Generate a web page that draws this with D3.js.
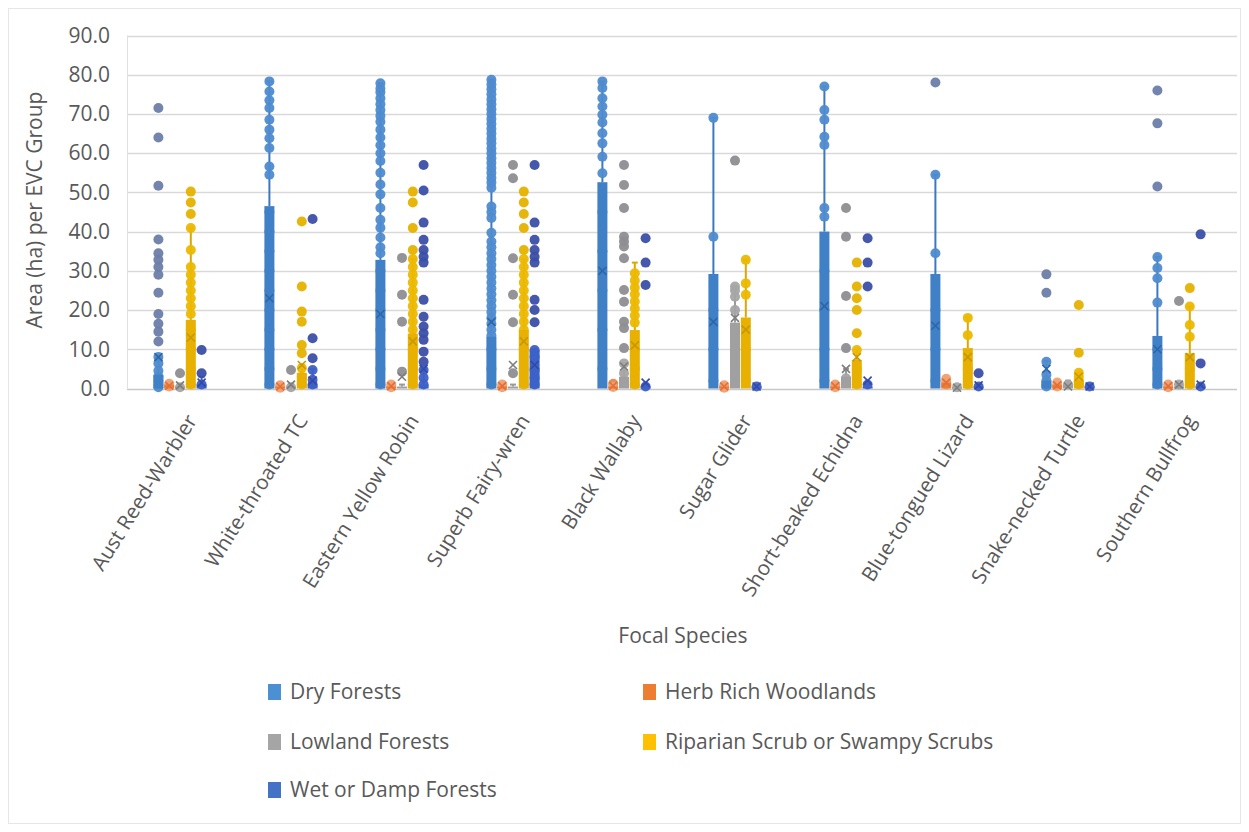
<!DOCTYPE html>
<html>
<head>
<meta charset="utf-8">
<script src="https://cdn.jsdelivr.net/npm/d3@7"></script>
<style>
  html, body { margin: 0; padding: 0; background: #ffffff; }
  svg { display: block; }
  text { font-family: "Open Sans", "Noto Sans", sans-serif; fill: #595959; }
</style>
</head>
<body>
<svg id="chart" width="1249" height="832"></svg>
<script>
// ---------------- DATA ----------------
const categories = ["Aust Reed-Warbler", "White-throated TC", "Eastern Yellow Robin", "Superb Fairy-wren",
  "Black Wallaby", "Sugar Glider", "Short-beaked Echidna", "Blue-tongued Lizard", "Snake-necked Turtle", "Southern Bullfrog"];
const seriesNames = ["Dry Forests", "Herb Rich Woodlands", "Lowland Forests", "Riparian Scrub or Swampy Scrubs", "Wet or Damp Forests"];
const yTicks = [0, 10, 20, 30, 40, 50, 60, 70, 80, 90];

// Dry Forests
const dryQ3 = [3.5, 46.5, 32.8, 13.2, 52.6, 29.2, 40, 29.2, 2, 13.4];
const dryWhisker = [8, 78.3, 77.8, 78.7, 78.3, 69, 77, 54.5, 7, 33.5];
const dryMean = [8, 23, 19, 17, 30, 17, 21, 16, 5, 10];
const dryPoints = [
  [71.5, 64, 51.7, 38, 34.5, 32.8, 31, 29, 24.4, 19, 16.5, 14.5, 12, 8, 6.4, 4.5, 3, 2, 1, 0.3],
  [78.3, 75.7, 73.5, 71.5, 68.5, 66, 63.8, 61.3, 56.6, 54.5, 45, 40, 35, 30, 25, 20, 15, 10, 5, 1],
  [77.8, 76.5, 75.5, 74, 72.5, 71, 69.5, 68, 66, 64, 62, 60, 58, 55, 52, 49.5, 46, 43, 41, 38.5, 36, 34.5, 30, 25, 20, 15, 10, 5, 1],
  [78.7, 77.5, 76.3, 75, 73.7, 72.5, 71.2, 70, 68.7, 67.5, 66.2, 65, 63.7, 62.5, 61.2, 60, 58.7, 57.5, 56.2, 55, 53.7, 52.5, 51.2,
   46.4, 45, 43.5, 39.7, 37.5, 36, 34.5, 33, 31.5, 30, 28.5, 27, 25.5, 24, 22.5, 21, 19.5, 18, 16.5, 15, 13.5, 10, 5, 1],
  [78.3, 76.6, 74, 71.9, 69.8, 67.8, 65.1, 62.5, 59.1, 54.9, 45, 35, 25, 15, 5],
  [69, 38.7, 20, 10, 2],
  [77, 71, 68.5, 64.2, 62.1, 46, 43.8, 30, 20, 10, 2],
  [78, 54.5, 34.5, 20, 10, 2],
  [29.1, 24.4, 6.8, 3.5, 2, 1, 0.5],
  [76, 67.6, 51.5, 33.5, 30.7, 28.1, 21.9, 10, 5, 1]
];

// Herb Rich Woodlands
const herbQ3 = [1, 0.5, 0.5, 0.5, 0.5, 0.5, 0.5, 1.5, 1, 0.5];
const herbWhisker = [1.5, 1, 1, 1, 1, 1, 1, 2.5, 1.5, 1];
const herbMean = [0.7, 0.5, 0.6, 0.6, 0.7, 0.5, 0.6, 1.5, 0.8, 0.6];
const herbPoints = [[1.2, 0.5], [0.8, 0.2], [1, 0.3], [1, 0.3], [1.2, 0.4], [0.8, 0.2], [1, 0.3], [2.5, 1.8, 1], [1.5, 0.5], [1, 0.3]];

// Lowland Forests
const lowQ3 = [0.5, 0.5, 0.5, 0.5, 3, 16.8, 3, 0.3, 1, 0.5];
const lowWhisker = [1, 1, 1, 1, 6.4, 26, 5, 0.5, 2, 1];
const lowMean = [0.8, 1, 3, 6, 5.6, 18, 5, 0.2, 0.5, 1];
const lowPoints = [
  [3.9, 0.3], [4.7, 0.3], [33.3, 23.9, 17, 4.3], [57, 53.6, 33.2, 23.9, 16.9, 3.9],
  [57, 51.9, 46, 38.7, 37.5, 36.2, 33.2, 25.1, 22.1, 17, 15.4, 10.3, 6.4, 3.9],
  [58.1, 26, 25, 23.4, 20, 10], [46, 38.7, 23.6, 10.3, 2.6], [0.3], [1], [22.3, 1]
];

// Riparian Scrub or Swampy Scrubs
const ripQ3 = [17.5, 4, 14, 14.9, 14.9, 18.1, 7.3, 10.3, 2, 9];
const ripWhisker = [40.9, 6, 33, 33, 32.1, 32.8, 10, 18.3, 4, 20.9];
const ripMean = [13, 6, 12, 12, 11, 15, 8, 8, 3, 8];
const ripPoints = [
  [50.2, 47.4, 44.5, 40.9, 35.3, 31, 29, 27, 25, 23, 21, 19, 15, 10, 5, 1],
  [42.6, 26, 19.6, 17, 11.1, 9, 5.2, 3, 1],
  [50.2, 47.4, 40.9, 35.3, 33, 31, 29, 27, 25, 23, 21, 19, 17, 15, 10, 5, 1],
  [50.2, 47.4, 44.5, 40.9, 35.3, 33, 31, 29, 27, 25, 23, 21, 19, 17, 15, 10, 5, 1],
  [29.4, 27.5, 25.7, 24, 22.2, 20.4, 18.6, 16.8, 10, 5, 1],
  [32.8, 26.8, 23.9, 10, 2],
  [32.1, 26, 23, 20, 14.1, 9.8, 5, 1],
  [18, 13.6, 5, 1],
  [21.3, 9.1, 4, 3, 2, 1],
  [25.6, 20.9, 16.2, 13.2, 5, 1]
];

// Wet or Damp Forests
const wetQ3 = [1, 1, 1, 9.8, 0.5, 0.5, 0.5, 0.5, 0.5, 0.5];
const wetWhisker = [3, 5, 5, 10, 1, 1, 1, 1, 1, 1];
const wetMean = [1.5, 2, 5, 6, 1.5, 0.5, 2, 0.8, 0.5, 1];
const wetPoints = [
  [9.8, 3.9, 1], [43.2, 12.8, 7.7, 4.7, 2.2, 1],
  [57, 50.5, 42.3, 37.9, 35.3, 33.6, 32.1, 22.6, 18.3, 15.8, 14.1, 12.4, 9.4, 6.8, 4.7, 2.7, 1],
  [57, 42.3, 37.9, 35.3, 33.6, 32.1, 22.6, 20, 16.9, 9.8, 8.1, 4.7, 2.7, 1],
  [38.3, 32.1, 26.4, 0.5], [0.5], [38.3, 32.1, 26, 1], [3.9, 0.5], [0.5], [39.3, 6.4, 0.5]
];

// ---------------- BUILD ----------------
const seriesTable = [
  { name: seriesNames[0], q3: dryQ3, whisker: dryWhisker, mean: dryMean, points: dryPoints },
  { name: seriesNames[1], q3: herbQ3, whisker: herbWhisker, mean: herbMean, points: herbPoints },
  { name: seriesNames[2], q3: lowQ3, whisker: lowWhisker, mean: lowMean, points: lowPoints },
  { name: seriesNames[3], q3: ripQ3, whisker: ripWhisker, mean: ripMean, points: ripPoints },
  { name: seriesNames[4], q3: wetQ3, whisker: wetWhisker, mean: wetMean, points: wetPoints }
];
const style = {
  "Dry Forests":          { box: "#3f80c6", pt: "#4e8bcf", out: "#6b7ea8", line: "#3b78bd", x: "#2d66a8", legend: "#4a90d2" },
  "Herb Rich Woodlands":  { box: "#ed7d31", pt: "#f0a070", out: "#e58a50", line: "#e07a35", x: "#e0703a", legend: "#ed7d31" },
  "Lowland Forests":      { box: "#a0a0a0", pt: "#a5a5a5", out: "#8e8e92", line: "#9a9a9a", x: "#7d7d7d", legend: "#a5a5a5" },
  "Riparian Scrub or Swampy Scrubs": { box: "#e8b000", pt: "#ecb800", out: "#e6b200", line: "#dba800", x: "#c89800", legend: "#ffc000" },
  "Wet or Damp Forests":  { box: "#3a62c8", pt: "#3d5fc6", out: "#3b4fa6", line: "#3a5ec0", x: "#3448a8", legend: "#4472c4" }
};

const FS = 21;
const svg = d3.select("#chart");
const plot = { left: 127, right: 1237, top: 35.5, bottom: 388.5 };

const x0 = d3.scaleBand().domain(categories).range([plot.left, plot.right]).padding(0);
const x1 = d3.scaleBand().domain(seriesNames).range([26, 80]).padding(0);
const y = d3.scaleLinear().domain([0, 90]).range([plot.bottom, plot.top]);

// chart border
svg.append("rect").attr("x", 8.5).attr("y", 8.5).attr("width", 1232).attr("height", 815)
  .attr("fill", "none").attr("stroke", "#e6e6e6");

// gridlines
svg.append("g").selectAll("line").data(yTicks).join("line")
  .attr("x1", plot.left).attr("x2", plot.right)
  .attr("y1", d => Math.round(y(d)) + 0.5).attr("y2", d => Math.round(y(d)) + 0.5)
  .attr("stroke", d => d === 0 ? "#c8c8c8" : "#d9d9d9").attr("stroke-width", 1.3);
svg.append("line").attr("x1", plot.left + 0.5).attr("x2", plot.left + 0.5)
  .attr("y1", plot.top).attr("y2", plot.bottom).attr("stroke", "#e0e0e0");

// y axis labels
const yAxis = d3.axisLeft(y).tickValues(yTicks).tickFormat(d3.format(".1f")).tickSize(0).tickPadding(17);
const gy = svg.append("g").attr("transform", `translate(${plot.left},0)`).call(yAxis);
gy.select(".domain").remove();
gy.selectAll("text").attr("font-size", FS).attr("fill", "#595959")
  .style("font-family", '"Open Sans", sans-serif');

// y title
svg.append("text").attr("transform", "translate(42,210) rotate(-90)")
  .attr("text-anchor", "middle").attr("font-size", FS).text("Area (ha) per EVC Group");

// x axis labels
const xAxis = d3.axisBottom(x0).tickSize(0).tickPadding(0);
const gx = svg.append("g").attr("transform", `translate(0,${plot.bottom})`).call(xAxis);
gx.select(".domain").remove();
gx.selectAll("text").attr("font-size", 20.5).attr("fill", "#595959")
  .style("font-family", '"Open Sans", sans-serif')
  .attr("text-anchor", "end").attr("y", 0).attr("dy", "0.35em")
  .attr("transform", "translate(9,28) rotate(-58)");

// x title
svg.append("text").attr("x", 683).attr("y", 643).attr("text-anchor", "middle")
  .attr("font-size", FS).text("Focal Species");

// marks
const marks = svg.append("g");
seriesTable.forEach(s => {
  const st = style[s.name];
  const bw = 10;
  categories.forEach((cat, i) => {
    const cx = x0(cat) + x1(s.name) + x1.bandwidth() / 2;
    const g = marks.append("g");
    // whisker
    g.append("line").attr("x1", cx).attr("x2", cx)
      .attr("y1", y(s.q3[i])).attr("y2", y(s.whisker[i]))
      .attr("stroke", st.line).attr("stroke-width", 2);
    g.append("line").attr("x1", cx - 3).attr("x2", cx + 3)
      .attr("y1", y(s.whisker[i])).attr("y2", y(s.whisker[i]))
      .attr("stroke", st.line).attr("stroke-width", 2);
    // points
    g.selectAll("circle").data(s.points[i]).join("circle")
      .attr("cx", cx).attr("cy", d => y(d)).attr("r", 5)
      .attr("fill", d => d > s.whisker[i] + 0.01 ? st.out : st.pt)
      .attr("fill-opacity", 0.95);
    // box
    g.append("rect").attr("x", cx - bw / 2).attr("width", bw)
      .attr("y", y(s.q3[i])).attr("height", y(0) - y(s.q3[i]))
      .attr("fill", st.box);
    // mean marker
    const my = y(s.mean[i]);
    g.append("path").attr("d", `M${cx - 4},${my - 4}L${cx + 4},${my + 4}M${cx - 4},${my + 4}L${cx + 4},${my - 4}`)
      .attr("stroke", st.x).attr("stroke-width", 1.6).attr("fill", "none");
  });
});

// legend
const legendPos = [
  { x: 268, y: 692 }, { x: 643, y: 692 },
  { x: 268, y: 742 }, { x: 643, y: 742 },
  { x: 268, y: 790 }
];
const lg = svg.append("g");
seriesNames.forEach((n, i) => {
  const p = legendPos[i];
  lg.append("rect").attr("x", p.x).attr("y", p.y - 8).attr("width", 13).attr("height", 16)
    .attr("fill", style[n].legend);
  lg.append("text").attr("x", p.x + 22).attr("y", p.y).attr("dy", "0.35em")
    .attr("font-size", FS).text(n);
});
</script>
</body>
</html>
